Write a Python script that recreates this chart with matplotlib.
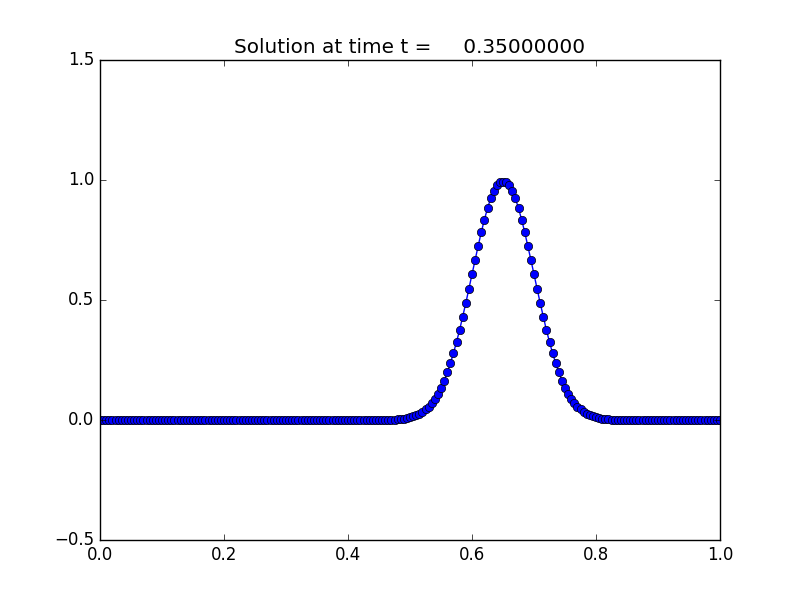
import numpy as np
import matplotlib
matplotlib.use('Agg')
import matplotlib.pyplot as plt

plt.style.use('classic')

# grid: 201 points on [0, 1]
x = np.linspace(0.0, 1.0, 201)

# values
zeros_left = [0.0] * 93
rise = [0.001, 0.0015, 0.002, 0.003, 0.004, 0.006, 0.008, 0.011, 0.015, 0.020,
        0.026, 0.034, 0.044, 0.056, 0.071, 0.089, 0.110, 0.135, 0.164, 0.198,
        0.236, 0.278, 0.325, 0.375, 0.430, 0.487, 0.546, 0.607, 0.667, 0.726,
        0.783, 0.835, 0.882, 0.923, 0.956, 0.980, 0.990]
peak = [0.992]
fall = [0.990, 0.980, 0.956, 0.923, 0.882, 0.835, 0.783, 0.726, 0.667, 0.607,
        0.546, 0.487, 0.430, 0.375, 0.325, 0.278, 0.236, 0.198, 0.164, 0.135,
        0.110, 0.089, 0.071, 0.056, 0.044, 0.034, 0.026, 0.020, 0.015, 0.011,
        0.008, 0.006, 0.004, 0.003, 0.002, 0.0015, 0.001]
zeros_right = [0.0] * 33
q = np.array(zeros_left + rise + peak + fall + zeros_right)

fig = plt.figure(figsize=(8, 6), dpi=100)
plt.plot(x, q, 'bo-')
plt.xlim(0.0, 1.0)
plt.ylim(-0.5, 1.5)
plt.title('Solution at time t =     0.35000000')
plt.savefig('out.png', dpi=100)
